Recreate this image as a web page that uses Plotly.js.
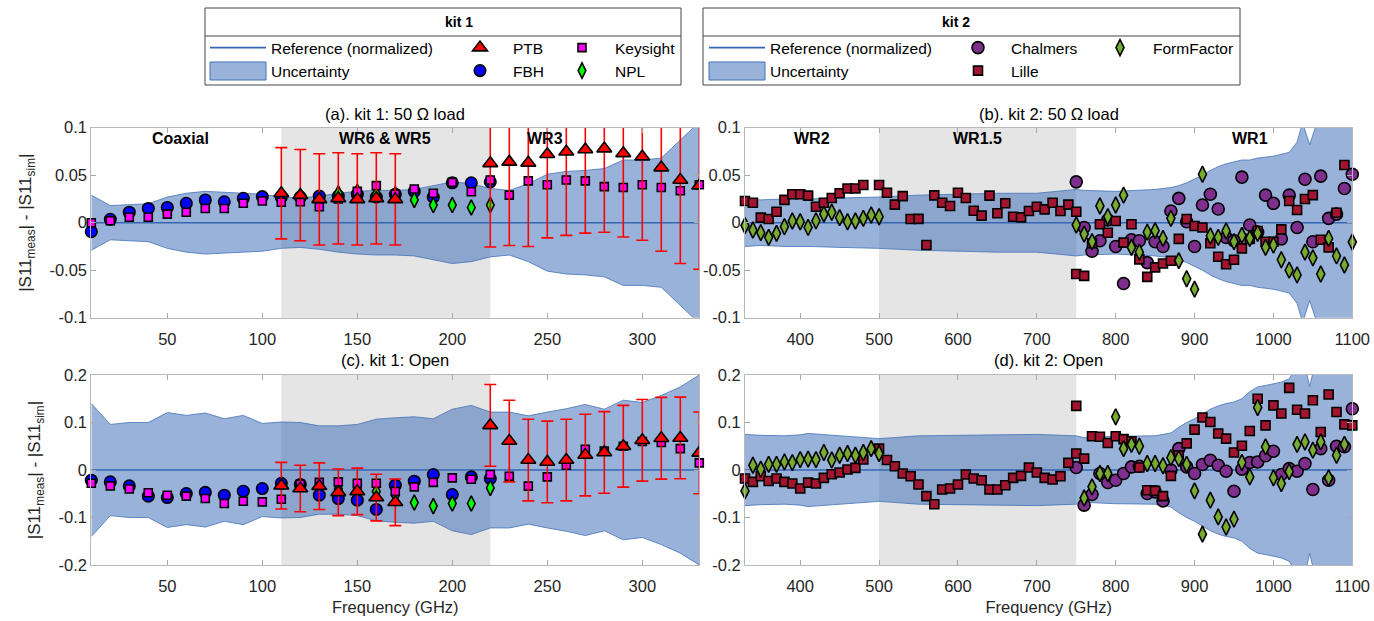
<!DOCTYPE html>
<html><head><meta charset="utf-8">
<script src="https://cdn.plot.ly/plotly-3.0.1.min.js"></script>
<style>html,body{margin:0;padding:0;background:#fff;} #chart{width:1374px;height:621px;}</style>
</head><body><div id="chart"></div>
<script>
// ---------------- DATA ----------------
const freqK1 = [10,20,30,40,50,60,70,80,90,100,110,120,130,140,150,160,170,180,190,200,210,220,230,240,250,260,270,280,290,300,310,320,330];
const freqK1FBH = [10,20,30,40,50,60,70,80,90,100,110,120,130,140,150,160,170,180,190,200,210,220];
const freqK1NPL = [140,150,160,170,180,190,200,210,220];
const freqPTB = [110,120,130,140,150,160,170,220,230,240,250,260,270,280,290,300,310,320,330];
const freqLilleWR2 = [330,340,350,360,370,380,390,400,410,420,430,440,450,460,470,480,500];
const freqWR2 = [330,340,350,360,370,380,390,400,410,420,430,440,450,460,470,480,490,500];
const freqWR15 = [510,520,530,540,550,560,570,580,590,600,610,620,630,640,650,660,670,680,690,700,710,720,730,740,750];
const freqWR1 = [750,760,770,780,790,800,810,820,830,840,850,860,870,880,890,900,910,920,930,940,950,960,970,980,990,1000,1010,1020,1030,1040,1050,1060,1070,1080,1090,1100];
const freqWR1_lilleB = [750,760,770,780,790,800,810,820,830,840,850,860,870,880,890,900,910,920,930,940,950,960,970,980,990,1000,1010,1020,1030,1040,1050,1060,1070,1080,1090];
const freqWR1_ffD = [760,770,780,790,800,810,820,830,840,850,860,870,880,890,900,910,920,930,940,950,960,970,980,990,1000,1010,1020,1030,1040,1050,1060,1070,1080,1090];
const bandK2x = [330,350,380,400,410,450,500,550,600,650,700,750,760,800,850,870,880,890,900,910,920,930,940,950,960,970,980,990,1000,1010,1020,1030,1037,1046,1055,1070,1085,1100];
const refXK1 = [10, 330];
const refXK2 = [330, 1100];
const refY = [0, 0];

// (a) kit 1: 50 ohm load
const k1Load_FBH = [-0.0095,0.0036,0.011,0.015,0.016,0.0204,0.0239,0.022,0.0257,0.0274,0.027,0.027,0.028,0.028,0.030,0.027,0.0299,0.033,0.027,0.042,0.042,0.043];
const k1Load_Keysight = [0.0,0.002,0.0057,0.0057,0.009,0.011,0.015,0.015,0.0204,0.0228,0.0215,0.022,0.0168,0.025,0.033,0.039,0.030,0.0355,0.031,0.0425,0.0326,0.045,0.029,0.044,0.040,0.045,0.044,0.038,0.037,0.040,0.037,0.0337,0.040];
const k1Load_NPL = [0.031,0.0326,0.030,0.0299,0.024,0.0186,0.0186,0.016,0.0186];
const k1Load_PTB = [0.031,0.029,0.0246,0.0256,0.0246,0.0256,0.0246,0.0625,0.064,0.063,0.072,0.0747,0.077,0.078,0.073,0.0695,0.058,0.045,0.039];
const k1Load_PTBerr = [0.048,0.048,0.048,0.048,0.048,0.048,0.048,0.088,0.088,0.088,0.088,0.088,0.088,0.088,0.088,0.088,0.088,0.088,0.088];
const k1Load_unc = [0.029,0.018,0.019,0.020,0.027,0.031,0.033,0.032,0.031,0.030,0.027,0.026,0.028,0.031,0.033,0.034,0.034,0.035,0.039,0.043,0.041,0.036,0.034,0.041,0.051,0.054,0.055,0.057,0.066,0.066,0.068,0.087,0.106];

// (c) kit 1: open
const k1Open_FBH = [-0.0215,-0.025,-0.0335,-0.055,-0.058,-0.0495,-0.047,-0.053,-0.0446,-0.039,-0.028,-0.0305,-0.053,-0.060,-0.0636,-0.083,-0.032,-0.0236,-0.0095,-0.0516,-0.0145,-0.018];
const k1Open_Keysight = [-0.028,-0.0335,-0.040,-0.048,-0.053,-0.055,-0.060,-0.0705,-0.0657,-0.067,-0.0615,-0.030,-0.026,-0.025,-0.028,-0.028,-0.045,-0.0355,-0.026,-0.0166,-0.0194,-0.0095,-0.013,-0.034,-0.0145,0.010,0.0438,0.040,0.050,0.060,0.058,0.045,0.015];
const k1Open_NPL = [-0.040,-0.040,-0.045,-0.053,-0.0685,-0.076,-0.0705,-0.0705,-0.0377];
const k1Open_PTB = [-0.033,-0.039,-0.034,-0.047,-0.045,-0.058,-0.068,0.094,0.061,0.021,0.017,0.021,0.0315,0.037,0.050,0.0625,0.0668,0.0675,0.036];
const k1Open_PTBerr = [0.049,0.049,0.049,0.049,0.049,0.049,0.049,0.086,0.086,0.086,0.086,0.086,0.086,0.086,0.086,0.086,0.086,0.086,0.086];
const k1Open_unc = [0.140,0.096,0.100,0.100,0.121,0.115,0.120,0.108,0.115,0.098,0.101,0.100,0.093,0.093,0.096,0.107,0.110,0.112,0.108,0.128,0.136,0.122,0.122,0.114,0.122,0.129,0.138,0.128,0.147,0.142,0.157,0.175,0.200];

// (b) kit 2: 50 ohm load
const k2Load_Lille_WR2 = [0.0228,0.021,0.0053,0.0039,0.0116,0.024,0.030,0.030,0.0285,0.0168,0.021,0.026,0.031,0.036,0.036,0.0397,0.0397];
const k2Load_Lille_WR15 = [0.0316,0.019,0.028,0.0039,0.004,-0.0235,0.0288,0.021,0.0176,0.0316,0.026,0.0126,0.0074,0.0285,0.0099,0.0204,0.0063,0.0056,0.0123,0.0168,0.014,0.021,0.0123,0.019,0.0116];
const k2Load_Lille_WR1 = [-0.054,-0.056,-0.0217,-0.0017,-0.0105,0.0018,-0.021,-0.0017,-0.0386,-0.057,-0.047,-0.043,-0.040,-0.017,0.0039,-0.0035,-0.005,-0.0217,-0.0358,-0.0438,-0.039,-0.027,-0.017,-0.0087,-0.020,-0.020,-0.007,0.0228,0.0134,0.025,0.029,-0.018,-0.026,0.0105,0.0607];
const k2Load_Chalmers = [0.043,-0.005,-0.030,-0.019,0.003,-0.025,-0.064,-0.018,-0.019,-0.042,-0.020,-0.025,0.0123,0.0256,0.001,-0.025,0.0186,0.030,0.0144,-0.0154,-0.019,0.048,-0.0024,-0.010,0.029,0.0204,-0.017,0.029,-0.005,0.0457,-0.020,0.049,0.0046,0.009,0.036,0.051];
const k2Load_FF_WR2 = [-0.003,-0.0077,-0.0105,-0.0154,-0.0112,-0.0042,0.0018,0.001,-0.005,0.002,0.009,0.011,0.0053,0.001,0.0018,0.0046,0.0081,0.0063];
const k2Load_FF_WR1 = [-0.0024,-0.012,-0.020,0.0176,0.0063,0.0186,0.029,-0.026,-0.031,-0.010,-0.0084,-0.0165,0.0046,-0.040,-0.059,-0.070,0.051,-0.014,-0.0154,-0.0087,-0.020,-0.0133,-0.0165,-0.0112,-0.026,-0.0235,-0.039,-0.050,-0.055,-0.031,-0.037,-0.054,-0.0165,-0.035,-0.0445,-0.0204];
const k2Load_unc = [0.025,0.024,0.025,0.025,0.025,0.026,0.027,0.029,0.030,0.031,0.031,0.035,0.034,0.033,0.035,0.037,0.039,0.042,0.046,0.050,0.055,0.059,0.062,0.064,0.066,0.066,0.068,0.069,0.070,0.072,0.074,0.085,0.105,0.082,0.105,0.105,0.106,0.108];

// (d) kit 2: open
const k2Open_Lille_WR2 = [-0.018,-0.025,-0.013,-0.023,-0.018,-0.025,-0.0285,-0.039,-0.0265,-0.0285,-0.0166,-0.0089,-0.0054,0.001,0.0045,0.022,0.045];
const k2Open_Lille_WR15 = [0.021,0.008,-0.0074,-0.013,-0.0305,-0.055,-0.072,-0.041,-0.039,-0.0305,-0.0095,-0.018,-0.0215,-0.041,-0.041,-0.032,-0.0166,-0.0124,0.0053,-0.0054,-0.0166,-0.020,-0.013,0.015,0.0347];
const k2Open_Lille_WR1 = [0.135,0.024,0.071,0.070,0.057,0.071,0.065,0.0606,0.0053,-0.0425,-0.044,-0.055,-0.0124,0.031,0.056,0.085,0.1105,0.101,0.077,0.066,0.0368,0.051,0.082,0.150,0.094,0.136,0.119,0.173,0.127,0.119,0.147,0.080,0.159,0.122,0.096,0.094];
const k2Open_Chalmers = [0.0053,-0.074,-0.0516,-0.0074,-0.0264,-0.0215,-0.0074,0.0066,0.008,-0.0495,-0.046,-0.065,0.000,0.045,0.0066,-0.0074,0.0116,0.0206,0.010,-0.0025,-0.0446,0.0017,0.0158,0.017,0.030,0.0396,-0.0095,0.003,-0.0025,0.0137,-0.041,0.045,-0.0215,0.050,0.049,0.129];
const k2Open_FF_WR2 = [-0.044,0.010,0.0017,0.012,0.012,0.017,0.0157,0.022,0.023,0.022,0.0368,0.021,0.031,0.0347,0.031,0.0368,0.045,0.0347];
const k2Open_FF_WR1 = [-0.059,-0.0355,-0.0074,-0.0074,0.112,0.045,0.054,0.050,0.0137,0.0137,0.009,0.026,0.024,0.012,-0.044,-0.135,-0.0636,-0.0987,-0.12,-0.1036,0.0158,-0.0145,0.1316,0.0487,-0.0166,-0.0285,-0.0035,0.054,0.059,0.0417,0.059,-0.0166,0.031,0.054];
const k2Open_unc = [0.075,0.073,0.072,0.074,0.077,0.072,0.066,0.072,0.073,0.074,0.075,0.072,0.068,0.071,0.072,0.078,0.090,0.100,0.108,0.118,0.128,0.135,0.140,0.143,0.150,0.165,0.175,0.178,0.181,0.185,0.192,0.220,0.240,0.176,0.240,0.240,0.245,0.250];

// ---------------- STYLE ----------------
const FONT = 'Liberation Sans, Arial, Helvetica, sans-serif';
const BAND_LINE = '#4472b8';
const BAND_FILL = 'rgba(51,102,179,0.5)';
const REF_COLOR = '#3566b3';
const W = 1374, H = 621;
const px = v => v / W, py = v => 1 - v / H;

const traces = [];
function band(x, unc, xa, ya) {
  traces.push({x: x, y: unc, xaxis: xa, yaxis: ya, type: 'scatter', mode: 'lines',
    line: {color: BAND_LINE, width: 0.8}, showlegend: false, hoverinfo: 'skip'});
  traces.push({x: x, y: unc.map(v => -v), xaxis: xa, yaxis: ya, type: 'scatter', mode: 'lines',
    fill: 'tonexty', fillcolor: BAND_FILL, line: {color: BAND_LINE, width: 0.8},
    name: 'Uncertainty', showlegend: false, hoverinfo: 'skip'});
}
// legend-only entry for the uncertainty band (swatch drawn as a full-height patch shape)
function uncLegend(xa, ya, legendId) {
  traces.push({x: [null], y: [null], xaxis: xa, yaxis: ya, type: 'scatter', mode: 'lines',
    line: {color: 'rgba(0,0,0,0)', width: 0}, name: 'Uncertainty', showlegend: true, legend: legendId, hoverinfo: 'skip'});
}
function ref(x, xa, ya, legendId) {
  traces.push({x: x, y: refY, xaxis: xa, yaxis: ya, type: 'scatter', mode: 'lines',
    line: {color: REF_COLOR, width: 1.6}, name: 'Reference (normalized)',
    showlegend: !!legendId, legend: legendId || 'legend'});
}
function pts(x, y, xa, ya, name, symbol, size, color, legendId, err) {
  const t = {x: x, y: y, xaxis: xa, yaxis: ya, type: 'scatter', mode: 'markers', name: name,
    marker: {symbol: symbol, size: size, color: color, line: {color: '#000', width: 1.6}},
    showlegend: !!legendId, legend: legendId || 'legend', cliponaxis: !!err};
  if (err) t.error_y = {type: 'data', array: err, visible: true, color: '#ff0000', thickness: 1.6, width: 6};
  traces.push(t);
}

// (a)
band(freqK1, k1Load_unc, 'x', 'y');
uncLegend('x', 'y', 'legend2');
ref(refXK1, 'x', 'y', 'legend');
pts(freqK1FBH, k1Load_FBH, 'x', 'y', 'FBH', 'circle', 11.5, '#0000ff', 'legend4');
pts(freqK1NPL, k1Load_NPL, 'x', 'y', 'NPL', 'diamond-tall', 11, '#00ff00', 'legend6');
pts(freqK1, k1Load_Keysight, 'x', 'y', 'Keysight', 'square', 8, '#ff00ff', 'legend5');
pts(freqPTB, k1Load_PTB, 'x', 'y', 'PTB', 'triangle-up', 13, '#ff0000', 'legend3', k1Load_PTBerr);
// (b)
band(bandK2x, k2Load_unc, 'x2', 'y2');
uncLegend('x2', 'y2', 'legend8');
ref(refXK2, 'x2', 'y2', 'legend7');
pts(freqWR1, k2Load_Chalmers, 'x2', 'y2', 'Chalmers', 'circle', 12, '#7e2f8e', 'legend9');
pts(freqLilleWR2.concat(freqWR15, freqWR1_lilleB), k2Load_Lille_WR2.concat(k2Load_Lille_WR15, k2Load_Lille_WR1), 'x2', 'y2', 'Lille', 'square', 9, '#a2142f', 'legend10');
pts(freqWR2.concat(freqWR1), k2Load_FF_WR2.concat(k2Load_FF_WR1), 'x2', 'y2', 'FormFactor', 'diamond-tall', 11.5, '#77ac30', 'legend11');
// (c)
band(freqK1, k1Open_unc, 'x3', 'y3');
ref(refXK1, 'x3', 'y3');
pts(freqK1FBH, k1Open_FBH, 'x3', 'y3', 'FBH', 'circle', 11.5, '#0000ff');
pts(freqK1NPL, k1Open_NPL, 'x3', 'y3', 'NPL', 'diamond-tall', 11, '#00ff00');
pts(freqK1, k1Open_Keysight, 'x3', 'y3', 'Keysight', 'square', 8, '#ff00ff');
pts(freqPTB, k1Open_PTB, 'x3', 'y3', 'PTB', 'triangle-up', 13, '#ff0000', null, k1Open_PTBerr);
// (d)
band(bandK2x, k2Open_unc, 'x4', 'y4');
ref(refXK2, 'x4', 'y4');
pts(freqWR1, k2Open_Chalmers, 'x4', 'y4', 'Chalmers', 'circle', 12, '#7e2f8e');
pts(freqLilleWR2.concat(freqWR15, freqWR1), k2Open_Lille_WR2.concat(k2Open_Lille_WR15, k2Open_Lille_WR1), 'x4', 'y4', 'Lille', 'square', 9, '#a2142f');
pts(freqWR2.concat(freqWR1_ffD), k2Open_FF_WR2.concat(k2Open_FF_WR1), 'x4', 'y4', 'FormFactor', 'diamond-tall', 11.5, '#77ac30');

// ---------------- LAYOUT ----------------
const domLeft = [px(91.3), px(699.3)], domRight = [px(745), px(1352.3)];
const domTop = [py(317.7), py(127.7)], domBot = [py(565), py(375)];
const axCommon = {showgrid: false, zeroline: false, showline: true, linecolor: '#b8b8b8', linewidth: 1,
  mirror: 'ticks', ticks: 'inside', ticklen: 5, tickcolor: '#a8a8a8',
  tickfont: {family: FONT, size: 16.5, color: '#262626'}};
const xK1 = Object.assign({}, axCommon, {range: [10, 330], domain: domLeft, tickvals: [50,100,150,200,250,300], ticklabelstandoff: 6});
const xK2 = Object.assign({}, axCommon, {range: [330, 1100], domain: domRight, tickvals: [400,500,600,700,800,900,1000,1100], ticklabelstandoff: 6});
const yTitle = {text: '|S11<sub>meas</sub>| - |S11<sub>sim</sub>|', font: {family: FONT, size: 17, color: '#262626'}, standoff: 13};
const yLoad = {range: [-0.1, 0.1], tickvals: [-0.1,-0.05,0,0.05,0.1], ticktext: ['-0.1','-0.05','0','0.05','0.1']};
const yOpen = {range: [-0.2, 0.2], tickvals: [-0.2,-0.1,0,0.1,0.2], ticktext: ['-0.2','-0.1','0','0.1','0.2']};
const xTitle = {text: 'Frequency (GHz)', font: {family: FONT, size: 16.5, color: '#262626'}, standoff: 7};

function legendAt(xp, yp) {
  return {x: px(xp), y: py(yp), xanchor: 'left', yanchor: 'middle', orientation: 'v',
    bgcolor: 'rgba(0,0,0,0)', borderwidth: 0, itemwidth: 56,
    font: {family: FONT, size: 15.5, color: '#000'}};
}
const row1 = 48, row2 = 71;

const shapes = [
  {type: 'rect', xref: 'x', yref: 'y domain', x0: 110, x1: 220, y0: 0, y1: 1, fillcolor: '#e5e5e5', line: {width: 0}, layer: 'below'},
  {type: 'rect', xref: 'x3', yref: 'y3 domain', x0: 110, x1: 220, y0: 0, y1: 1, fillcolor: '#e5e5e5', line: {width: 0}, layer: 'below'},
  {type: 'rect', xref: 'x2', yref: 'y2 domain', x0: 500, x1: 750, y0: 0, y1: 1, fillcolor: '#e5e5e5', line: {width: 0}, layer: 'below'},
  {type: 'rect', xref: 'x4', yref: 'y4 domain', x0: 500, x1: 750, y0: 0, y1: 1, fillcolor: '#e5e5e5', line: {width: 0}, layer: 'below'},
  // legend boxes
  {type: 'rect', xref: 'paper', yref: 'paper', x0: px(205), x1: px(681), y0: py(85), y1: py(8), line: {color: '#444', width: 1}, fillcolor: 'rgba(0,0,0,0)'},
  {type: 'line', xref: 'paper', yref: 'paper', x0: px(205), x1: px(681), y0: py(36), y1: py(36), line: {color: '#444', width: 1}},
  {type: 'rect', xref: 'paper', yref: 'paper', x0: px(703), x1: px(1240), y0: py(85), y1: py(8), line: {color: '#444', width: 1}, fillcolor: 'rgba(0,0,0,0)'},
  {type: 'line', xref: 'paper', yref: 'paper', x0: px(703), x1: px(1240), y0: py(36), y1: py(36), line: {color: '#444', width: 1}},
  // uncertainty legend swatches
  {type: 'rect', xref: 'paper', yref: 'paper', x0: px(210), x1: px(266), y0: py(80), y1: py(62), line: {color: BAND_LINE, width: 1}, fillcolor: BAND_FILL},
  {type: 'rect', xref: 'paper', yref: 'paper', x0: px(709), x1: px(765), y0: py(80), y1: py(62), line: {color: BAND_LINE, width: 1}, fillcolor: BAND_FILL}
];

const annFont = {family: FONT, size: 16.5, color: '#000'};
const regFont = {family: FONT, size: 16, color: '#000'};
function regionLabel(text, xa, xv) {
  return {text: '<b>' + text + '</b>', xref: xa, yref: (xa === 'x' ? 'y' : 'y2') + ' domain', x: xv, y: 0.945,
    showarrow: false, font: regFont, xanchor: 'center', yanchor: 'middle'};
}
const annotations = [
  {text: '(a). kit 1: 50 Ω load', xref: 'x domain', yref: 'paper', x: 0.5, y: py(114), showarrow: false, font: annFont, yanchor: 'middle'},
  {text: '(b). kit 2: 50 Ω load', xref: 'x2 domain', yref: 'paper', x: 0.5, y: py(114), showarrow: false, font: annFont, yanchor: 'middle'},
  {text: '(c). kit 1: Open', xref: 'x3 domain', yref: 'paper', x: 0.5, y: py(360), showarrow: false, font: annFont, yanchor: 'middle'},
  {text: '(d). kit 2: Open', xref: 'x4 domain', yref: 'paper', x: 0.5, y: py(360), showarrow: false, font: annFont, yanchor: 'middle'},
  regionLabel('Coaxial', 'x', 57),
  regionLabel('WR6 &amp; WR5', 'x', 164.5),
  regionLabel('WR3', 'x', 249),
  regionLabel('WR2', 'x2', 415),
  regionLabel('WR1.5', 'x2', 625),
  regionLabel('WR1', 'x2', 970),
  {text: '<b>kit 1</b>', xref: 'paper', yref: 'paper', x: px(443), y: py(22), showarrow: false, font: {family: FONT, size: 14, color: '#000'}, yanchor: 'middle'},
  {text: '<b>kit 2</b>', xref: 'paper', yref: 'paper', x: px(971.5), y: py(22), showarrow: false, font: {family: FONT, size: 14, color: '#000'}, yanchor: 'middle'}
];

const layout = {
  width: W, height: H, margin: {l: 0, r: 0, t: 0, b: 0, pad: 0},
  paper_bgcolor: '#fff', plot_bgcolor: '#fff', font: {family: FONT},
  xaxis: Object.assign({}, xK1, {anchor: 'y'}),
  xaxis2: Object.assign({}, xK2, {anchor: 'y2'}),
  xaxis3: Object.assign({}, xK1, {anchor: 'y3', title: xTitle}),
  xaxis4: Object.assign({}, xK2, {anchor: 'y4', title: xTitle}),
  yaxis: Object.assign({}, axCommon, yLoad, {domain: domTop, anchor: 'x', title: yTitle}),
  yaxis2: Object.assign({}, axCommon, yLoad, {domain: domTop, anchor: 'x2'}),
  yaxis3: Object.assign({}, axCommon, yOpen, {domain: domBot, anchor: 'x3', title: yTitle}),
  yaxis4: Object.assign({}, axCommon, yOpen, {domain: domBot, anchor: 'x4'}),
  legend: legendAt(205, row1),
  legend2: legendAt(205, row2),
  legend3: legendAt(447, row1),
  legend4: legendAt(447, row2),
  legend5: legendAt(549, row1),
  legend6: legendAt(549, row2),
  legend7: legendAt(704, row1),
  legend8: legendAt(704, row2),
  legend9: legendAt(945, row1),
  legend10: legendAt(945, row2),
  legend11: legendAt(1087, row1),
  shapes: shapes,
  annotations: annotations,
  showlegend: true
};

Plotly.newPlot('chart', traces, layout, {displayModeBar: false, staticPlot: true});
</script></body></html>
